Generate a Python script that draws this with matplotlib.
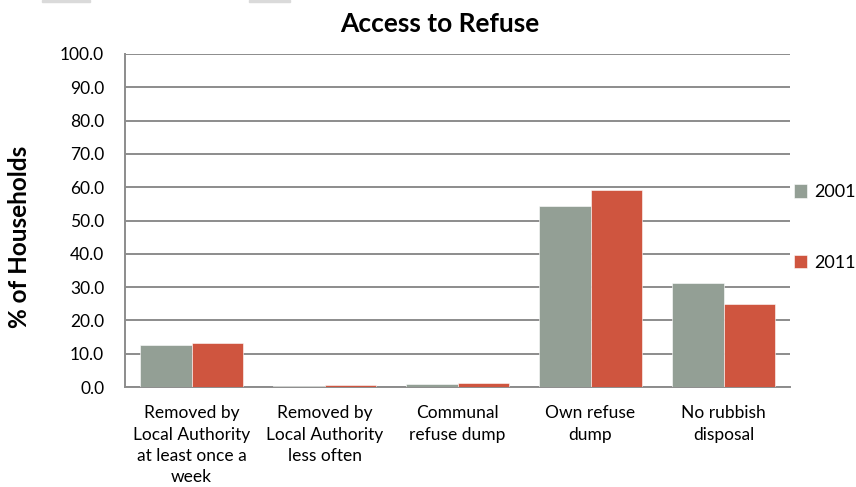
import matplotlib
matplotlib.use("Agg")
import matplotlib.pyplot as plt
import numpy as np
from matplotlib.patches import Rectangle

plt.rcParams['font.family'] = ['Lato', 'DejaVu Sans']

categories = [
    "Removed by\nLocal Authority\nat least once a\nweek",
    "Removed by\nLocal Authority\nless often",
    "Communal\nrefuse dump",
    "Own refuse\ndump",
    "No rubbish\ndisposal",
]
years = ["2001", "2011"]
values_2001 = [12.6, 0.3, 0.9, 54.4, 31.2]
values_2011 = [13.2, 0.5, 1.2, 59.2, 24.9]
yticks = [0, 10, 20, 30, 40, 50, 60, 70, 80, 90, 100]

c2001 = "#939F95"
c2011 = "#CF553F"
grid_c = "#8C8C8C"

fig = plt.figure(figsize=(8.56, 4.87), dpi=100)
ax = fig.add_axes([125 / 856, 1 - 387 / 487, 665 / 856, 333 / 487])

x = np.arange(len(categories))
w = 0.39
ax.bar(x - w / 2, values_2001, w, color=c2001, label=years[0], zorder=3,
       edgecolor="white", linewidth=0.4)
ax.bar(x + w / 2, values_2011, w, color=c2011, label=years[1], zorder=3,
       edgecolor="white", linewidth=0.4)

ax.set_xlim(-0.5, len(categories) - 0.5)
ax.set_ylim(0, 100)
ax.set_yticks(yticks)
ax.set_yticklabels([f"{v:.1f}" for v in yticks], fontsize=12.5)
ax.set_xticks(x)
ax.set_xticklabels(categories, fontsize=12.5, linespacing=1.42)
ax.tick_params(axis='x', length=0, pad=13)
ax.tick_params(axis='y', length=0, pad=15)

ax.yaxis.grid(True, color=grid_c, linewidth=1.4, zorder=0)
ax.set_axisbelow(True)
for s in ["top", "right"]:
    ax.spines[s].set_visible(False)
for s in ["left", "bottom"]:
    ax.spines[s].set_color(grid_c)
    ax.spines[s].set_linewidth(1.4)

ax.set_ylabel("% of Households", fontsize=17.5, fontweight="bold")
ax.yaxis.set_label_coords(-0.142, 0.45)

fig.text(440 / 856, 1 - 24 / 487, "Access to Refuse", ha="center", va="center",
         fontsize=19, fontweight="bold")

leg = ax.legend(loc="center left", bbox_to_anchor=(0.995, 0.479), frameon=False,
                fontsize=13, handlelength=0.75, handleheight=0.75,
                handletextpad=0.35, labelspacing=3.0, borderaxespad=0)

# faint strips along the top edge
for x0, x1 in [(42, 90), (249, 290)]:
    fig.patches.append(Rectangle((x0 / 856, 1 - 2 / 487), (x1 - x0) / 856, 2 / 487,
                                 transform=fig.transFigure, color="#DADADA",
                                 zorder=0))

fig.savefig("out.png", dpi=100)
